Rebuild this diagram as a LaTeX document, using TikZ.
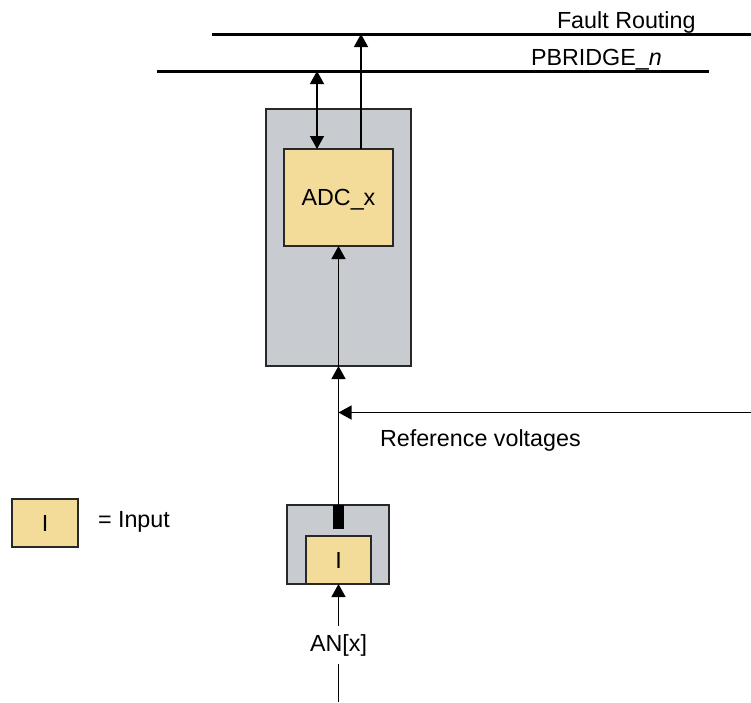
\documentclass[tikz,border=0pt]{standalone}
\usepackage{fontspec}
\setmainfont{Liberation Sans}
\usetikzlibrary{arrows.meta}
\definecolor{boxgrey}{RGB}{200,203,208}
\definecolor{boxyellow}{RGB}{243,219,154}
\definecolor{edgegrey}{RGB}{40,40,40}
\tikzset{
  lbl/.style={font=\fontsize{23.3}{28}\selectfont, inner sep=0pt, outer sep=0pt},
  greybox/.style={draw=edgegrey, fill=boxgrey, line width=1.1pt, inner sep=0pt, outer sep=0pt, anchor=north west},
  ybox/.style={draw=edgegrey, fill=boxyellow, line width=1.1pt, inner sep=0pt, outer sep=0pt, anchor=center,
    font=\fontsize{23.3}{28}\selectfont, text height=16.5pt, text depth=0pt},
  bus/.style={line width=3pt},
  conn/.style={line width=1.3pt},
  arr/.style={conn, -{Triangle[length=13pt,width=14pt]}},
  darr/.style={conn, {Triangle[length=13pt,width=14pt]}-{Triangle[length=13pt,width=14pt]}}
}
\begin{document}
\begin{tikzpicture}[x=1pt,y=-1pt]
\useasboundingbox (0,0) rectangle (751,702);

% buses
\coordinate (frL) at (212,34);
\coordinate (frR) at (751,34);
\coordinate (pbL) at (157,71);
\coordinate (pbR) at (709,71);
\draw[bus] (frL) -- (frR);
\draw[bus] (pbL) -- (pbR);
\node[lbl, anchor=base west] (frtext) at (557,28) {Fault Routing};
\node[lbl, anchor=base west] (pbtext) at (531,65) {PBRIDGE\_\textit{n}};

% ADC block
\node[greybox, minimum width=145pt, minimum height=257pt] (grey) at (266,109) {};
\node[ybox, minimum width=109pt, minimum height=97pt] (adc) at (338.5,197.5) {ADC\_x};

% connections to buses
\coordinate (pbA) at (317,71);
\coordinate (frA) at (361,34);
\draw[darr] (pbA) -- (pbA |- adc.north);
\draw[arr] (frA |- adc.north) -- (frA);

% input block
\node[greybox, minimum width=102pt, minimum height=79pt] (small) at (287,505) {};
\node[draw=none, fill=black, inner sep=0pt, outer sep=0pt, minimum width=11pt, minimum height=24pt, anchor=north] (bar) at (338.5,505) {};
\node[ybox, minimum width=65pt, minimum height=48pt] (inI) at (338.5,560) {I};

% vertical path to ADC
\coordinate (gb) at (grey.south -| bar.north);
\draw[arr] (bar.north) -- (gb);
\draw[arr] (gb) -- (adc.south);

% reference voltages
\coordinate (refR) at (751,412.5);
\draw[arr] (refR) -- (refR -| bar.north);
\node[lbl, anchor=base west] (reftext) at (380,446) {Reference voltages};

% AN[x]
\node[lbl, anchor=base, inner ysep=8pt] (an) at (338.5,651) {AN[x]};
\coordinate (anB) at (338.5,702);
\draw[conn] (anB) -- (an.south);
\draw[arr] (an.north) -- (inI.south);

% legend
\node[ybox, minimum width=66pt, minimum height=48pt] (leg) at (45,523) {I};
\node[lbl, anchor=base west] (legtext) at (98,527) {= Input};
\end{tikzpicture}
\end{document}
